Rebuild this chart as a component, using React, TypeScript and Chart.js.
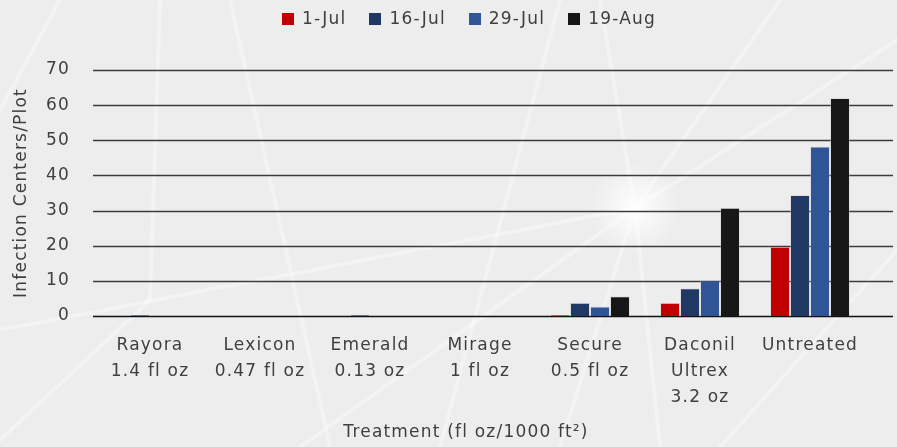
import React, { useEffect, useRef } from "react";
import { Chart, registerables } from "chart.js";

Chart.register(...registerables);

const categories: string[][] = [
  ["Rayora", "1.4 fl oz"],
  ["Lexicon", "0.47 fl oz"],
  ["Emerald", "0.13 oz"],
  ["Mirage", "1 fl oz"],
  ["Secure", "0.5 fl oz"],
  ["Daconil", "Ultrex", "3.2 oz"],
  ["Untreated"],
];
const seriesNames = ["1-Jul", "16-Jul", "29-Jul", "19-Aug"];
const seriesColors = ["#c00000", "#1f3864", "#2f5597", "#171717"];
const jul1 = [0, 0, 0, 0, 0.3, 3.8, 19.7];
const jul16 = [0.3, 0, 0.3, 0, 3.8, 7.9, 34.4];
const jul29 = [0, 0, 0, 0, 2.7, 10.2, 48.2];
const aug19 = [0, 0, 0, 0, 5.6, 30.8, 62.0];
const yTicks = [0, 10, 20, 30, 40, 50, 60, 70];
const yTitle = "Infection Centers/Plot";
const xTitle = "Treatment (fl oz/1000 ft\u00B2)";

const FONT = "'DejaVu Sans', sans-serif";
const TEXT = "#3f3f3f";
const SPACING = "1.2px";

const spacingPlugin = {
  id: "spacing",
  beforeUpdate(chart: any) {
    chart.ctx.letterSpacing = SPACING;
  },
  beforeDraw(chart: any) {
    chart.ctx.letterSpacing = SPACING;
  },
};

const bgPlugin = {
  id: "bg",
  beforeDraw(chart: any) {
    const { ctx, width, height } = chart;
    ctx.save();
    ctx.fillStyle = "#ededed";
    ctx.fillRect(0, 0, width, height);
    const g = ctx.createRadialGradient(635, 208, 0, 635, 208, 45);
    g.addColorStop(0, "rgba(255,255,255,0.95)");
    g.addColorStop(1, "rgba(255,255,255,0)");
    ctx.fillStyle = g;
    ctx.fillRect(0, 0, width, height);
    ctx.strokeStyle = "rgba(255,255,255,0.35)";
    ctx.lineCap = "round";
    const streaks = [
      [[440, 447], [560, 0]],
      [[560, 447], [635, 208], [780, 0]],
      [[300, 447], [635, 208], [897, 40]],
      [[0, 330], [635, 208]],
      [[660, 447], [635, 208], [600, 0]],
      [[0, 110], [60, 0]],
      [[720, 447], [897, 250]],
      [[230, 0], [330, 447]],
      [[0, 440], [150, 300], [160, 0]],
    ];
    ctx.lineWidth = 4;
    for (const s of streaks) {
      ctx.beginPath();
      ctx.moveTo(s[0][0], s[0][1]);
      for (let i = 1; i < s.length; i++) ctx.lineTo(s[i][0], s[i][1]);
      ctx.stroke();
    }
    ctx.restore();
  },
};

const gridPlugin = {
  id: "grid",
  beforeDatasetsDraw(chart: any) {
    const { ctx, scales } = chart;
    ctx.save();
    for (const v of yTicks) {
      const y = Math.round(scales.y.getPixelForValue(v)) + 0.5;
      ctx.strokeStyle = v === 0 ? "#111111" : "#3c3c3c";
      ctx.lineWidth = 1.6;
      ctx.beginPath();
      ctx.moveTo(93, y);
      ctx.lineTo(893, y);
      ctx.stroke();
    }
    ctx.restore();
  },
};

const textPlugin = {
  id: "texts",
  afterDraw(chart: any) {
    const { ctx } = chart;
    ctx.save();
    ctx.letterSpacing = SPACING;
    ctx.font = `17px ${FONT}`;
    ctx.fillStyle = TEXT;
    ctx.textBaseline = "middle";
    const box = 12;
    const gap = 8;
    const spacing = 23;
    const widths = seriesNames.map((n) => ctx.measureText(n).width);
    const total =
      widths.reduce((a, w) => a + box + gap + w, 0) + spacing * (seriesNames.length - 1);
    let x = 469 - total / 2;
    const ly = 19;
    chart.data.datasets.forEach((ds: any, i: number) => {
      ctx.fillStyle = ds.backgroundColor;
      ctx.fillRect(Math.round(x), ly - box / 2, box, box);
      ctx.fillStyle = TEXT;
      ctx.textAlign = "left";
      ctx.fillText(ds.label, x + box + gap, ly + 1);
      x += box + gap + widths[i] + spacing;
    });
    ctx.textAlign = "center";
    ctx.fillText(xTitle, 466, 433);
    ctx.restore();
  },
};

export default function App() {
  const ref = useRef<HTMLCanvasElement>(null);
  useEffect(() => {
    if (!ref.current) return;
    const datasets = [jul1, jul16, jul29, aug19].map((d, i) => ({
      label: seriesNames[i],
      data: d,
      backgroundColor: seriesColors[i],
      borderColor: "rgba(200,200,210,0.35)",
      borderWidth: 1,
      barPercentage: 1,
      categoryPercentage: 0.727,
    }));
    const chart = new Chart(ref.current, {
      type: "bar",
      data: { labels: categories, datasets },
      options: {
        animation: false,
        responsive: false,
        maintainAspectRatio: false,
        layout: { padding: { top: 70, right: 32, left: 0, bottom: 0 } },
        plugins: {
          legend: { display: false },
          tooltip: { enabled: false },
        },
        scales: {
          x: {
            grid: { display: false },
            border: { display: false },
            ticks: {
              color: TEXT,
              font: { family: FONT, size: 17, lineHeight: 1.53 },
              padding: 9,
              maxRotation: 0,
              minRotation: 0,
              autoSkip: false,
            },
            afterFit(scale: any) {
              scale.height = 131;
            },
          },
          y: {
            min: 0,
            max: 70,
            grid: { display: false, drawTicks: false },
            border: { display: false },
            ticks: {
              stepSize: 10,
              color: TEXT,
              font: { family: FONT, size: 17 },
              padding: 25,
            },
            title: {
              display: true,
              text: yTitle,
              color: TEXT,
              font: { family: FONT, size: 17 },
              padding: { top: 11, bottom: 0 },
            },
            afterFit(scale: any) {
              scale.width = 95;
            },
          },
        },
      },
      plugins: [spacingPlugin, bgPlugin, gridPlugin, textPlugin],
    });
    return () => chart.destroy();
  }, []);
  return (
    <div style={{ position: "fixed", left: 0, top: 0, width: 897, height: 447 }}>
      <canvas ref={ref} width={897} height={447} style={{ display: "block" }} />
    </div>
  );
}
